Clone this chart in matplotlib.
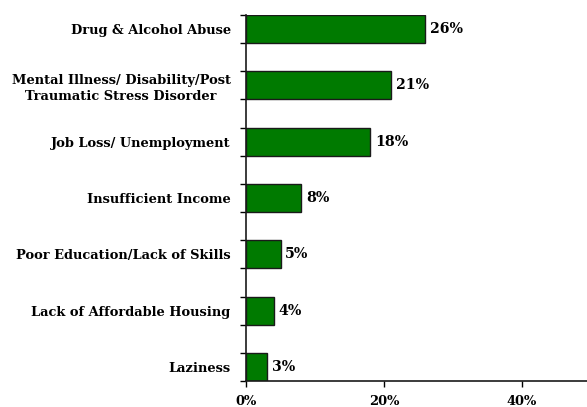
import matplotlib
matplotlib.use("Agg")
import matplotlib.pyplot as plt

categories = ["Drug & Alcohol Abuse",
              "Mental Illness/ Disability/Post\nTraumatic Stress Disorder",
              "Job Loss/ Unemployment",
              "Insufficient Income",
              "Poor Education/Lack of Skills",
              "Lack of Affordable Housing",
              "Laziness"]
values = [26, 21, 18, 8, 5, 4, 3]
xticks = [0, 20, 40]
xtick_labels = ["0%", "20%", "40%"]

W, H = 587, 407
fig = plt.figure(figsize=(W/100, H/100), dpi=100)
left, right_px = 246, 591
top_px, bot_px = 15, 381
ax = fig.add_axes([left/W, (H-bot_px)/H, (right_px-left)/W, (bot_px-top_px)/H])

font = dict(family="DejaVu Serif", weight="bold", size=9.4)
vfont = dict(family="DejaVu Serif", weight="bold", size=10.2)
pos = list(range(len(categories)))
ax.barh(pos, values, height=0.5, color="#007A00", edgecolor="#1a1a1a", linewidth=1.0)
ax.set_ylim(len(categories) - 0.75, -0.25)
ax.set_xlim(0, 50)

for p, v in zip(pos, values):
    ax.text(v + 0.7, p, f"{v}%", va="center", ha="left", **vfont)

# y ticks at bar edges, labels at centers
edges = []
for p in pos:
    edges += [p - 0.25, p + 0.25]
ax.set_yticks(edges)
ax.set_yticklabels([])
ax.set_yticks(pos, minor=True)
ax.set_yticklabels(categories, minor=True, **font)
ax.tick_params(axis="y", which="major", length=4, width=1, direction="out")
ax.tick_params(axis="y", which="minor", length=0, pad=11)
for lbl in ax.get_yticklabels(minor=True):
    lbl.set_horizontalalignment("right")
    lbl.set_multialignment("center")
    lbl.set_linespacing(1.35)

ax.set_xticks(xticks)
ax.set_xticklabels(xtick_labels, **font)
ax.tick_params(axis="x", length=4, width=1, direction="out", pad=6)

for s in ["top", "right"]:
    ax.spines[s].set_visible(False)
for s in ["left", "bottom"]:
    ax.spines[s].set_linewidth(1.2)
    ax.spines[s].set_color("#1a1a1a")

fig.savefig("out.png", dpi=100)
